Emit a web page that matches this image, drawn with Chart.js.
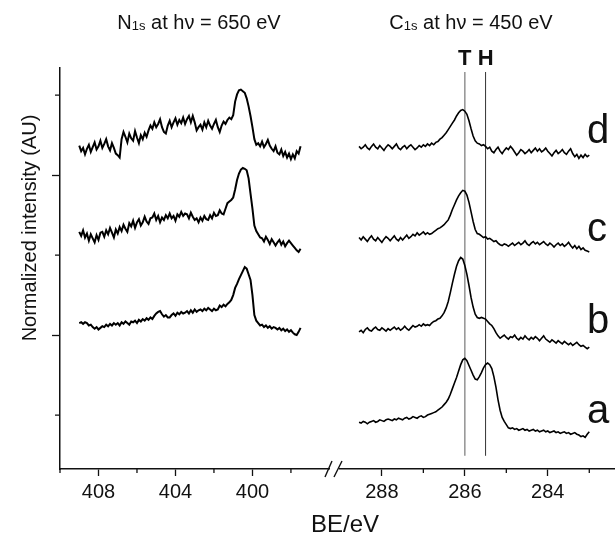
<!DOCTYPE html>
<html><head><meta charset="utf-8">
<script src="https://cdn.jsdelivr.net/npm/chart.js@4.4.0/dist/chart.umd.min.js"></script>
<style>html,body{margin:0;padding:0;background:#fff;overflow:hidden}</style>
</head><body>
<canvas id="c" width="615" height="537" style="display:block;width:615px;height:537px"></canvas>
<script>
// ---------- data ----------
// energy grids (binding energy, eV), uniform sampling
const N1S_BE_START = 409.0, N1S_BE_STEP = 0.1;
const C1S_BE_START = 288.55, C1S_BE_STEP = 0.05;

// N1s spectra (normalized intensity, offset per sample)
const N1S_D = [337,330,334,326,333,338,329,335,341,332,336,343,334,339,345,336,331,340,334,327,
  325,322,345,354,
  348,341,352,346,343,355,347,340,350,345,353,348,
  356,362,358,366,360,364,
  370,360,354,352,
  362,368,360,366,371,363,369,365,372,364,370,374,366,
  374,366,356,360,
  363,357,366,360,368,362,358,364,369,360,354,
  362,367,364,369,
  372,370,375,392,401,406,407,405,403,396,386,374,360,345,338,
  340,336,342,335,339,344,337,333,330,336,328,326,332,324,329,322,327,320,326,321,330,327,336];
const N1S_C = [229,224,231,222,227,218,226,221,216,225,219,228,
  229,223,231,226,234,228,222,232,227,235,230,238,233,229,
  240,236,243,234,241,245,237,241,248,242,239,246,
  247,252,244,249,241,247,244,250,246,252,246,249,243,251,248,254,249,252,
  251,246,253,248,244,246,241,247,243,249,245,244,250,246,253,249,250,256,252,
  251,258,265,267,269,272,282,294,302,307,309,308,306,296,277,258,237,230,226,222,
  221,217,223,219,214,220,216,212,216,219,213,217,211,215,218,215,212,209,206,204,208];
const N1S_B = [115,116,114,116,115,112,113,110,108,110,107,109,
  111,110,113,111,114,112,115,113,115,112,116,114,117,115,113,117,
  116,118,115,119,117,120,118,121,119,122,120,124,127,129,
  130,126,123,125,122,122,125,127,124,128,126,129,127,128,
  130,127,131,128,132,129,131,132,130,133,131,134,132,130,133,131,132,
  137,135,138,136,139,141,144,150,159,164,170,175,180,185,183,176,169,150,125,118,115,112,
  113,110,112,109,111,108,110,109,107,109,106,108,105,107,104,106,103,101,100,104,109];

// C1s spectra
const C1S_D = [336,333,335,338,334,332,336,339,335,333,337,334,331,335,338,336,333,336,339,334,
  332,335,337,333,336,338,335,332,334,337,335,338,336,339,337,340,338,341,
  342,345,347,350,353,357,361,365,369,374,378,381,382,380,376,368,358,349,343,340,339,337,
  338,336,333,335,330,328,332,335,330,327,331,334,332,336,333,329,325,328,332,330,
  327,329,332,328,331,334,330,333,329,331,334,330,327,324,328,331,327,329,332,328,
  326,330,333,327,323,326,321,325,322,326,323,325];
const C1S_C = [222,219,223,220,217,221,224,220,218,222,219,216,220,223,221,218,221,224,220,218,
  222,219,222,225,221,223,226,224,228,225,227,229,226,228,226,227,
  229,231,233,234,236,238,241,244,250,257,263,269,274,278,281,280,275,266,254,242,232,227,226,224,
  222,223,220,221,219,217,218,215,213,212,214,213,211,213,215,212,214,216,213,215,
  218,214,212,215,217,214,216,213,215,217,214,212,215,213,210,213,215,212,214,211,
  213,216,212,209,212,208,211,207,209,206,205,204];
const C1S_B = [104,106,103,107,109,106,105,108,110,107,106,109,107,105,108,106,108,110,107,109,
  106,108,111,108,106,109,112,110,111,113,111,114,112,113,
  112,115,117,118,120,121,124,128,134,142,153,165,176,186,193,197,195,187,176,162,147,135,126,122,121,122,121,
  120,117,114,112,108,103,99,96,98,100,97,95,98,97,100,96,94,97,95,99,
  96,94,97,95,98,96,93,96,99,95,93,91,94,92,90,93,91,89,92,90,
  88,90,87,89,91,88,86,87,85,83,85];
const C1S_A = [-9,-10,-8,-9,-11,-9,-8,-7,-9,-8,-6,-7,-8,-6,-5,-6,-7,-5,-6,-4,
  -5,-6,-4,-3,-5,-4,-2,-3,-4,-2,-1,-3,-2,0,1,2,3,
  4,6,8,10,13,16,20,26,33,40,47,55,63,69,71,68,62,56,50,45,44,48,53,59,63,65,63,58,48,35,19,6,-3,-8,-12,-16,
  -17,-16,-18,-17,-19,-18,-17,-19,-18,-20,-19,-18,-20,-19,-21,-20,-19,-21,-20,-22,
  -21,-20,-22,-21,-23,-22,-21,-23,-22,-24,-23,-22,-24,-25,-27,-26,-28,-24,-21];

// axis ranges & ticks
const N1S_RANGE = [395.71, 410];
const C1S_RANGE = [282.38, 289.13];
const Y_RANGE = [-67.5, 434];
const X_TICKS_N1S = [408, 404, 400];
const X_MINOR_N1S = [410, 406, 402, 398];
const X_TICKS_C1S = [288, 286, 284];
const X_MINOR_C1S = [287, 285, 283];
const Y_MAJOR = [100, 300];
const Y_MINOR = [0, 200, 400];

// component markers
const MARKER_LABELS = ['T', 'H'];
const MARKER_BE = [286.0, 285.5];
const MARKER_Y = [-51, 429];

// texts
const TITLE_N1S = ['N', '1s', ' at h\u03bd = 650 eV'];
const TITLE_C1S = ['C', '1s', ' at h\u03bd = 450 eV'];
const X_TITLE = 'BE/eV';
const Y_TITLE = 'Normalized intensity (AU)';
const TRACE_LABELS = ['d', 'c', 'b', 'a'];

// ---------- build ----------
function grid(start, step, n) { const a = []; for (let i = 0; i < n; i++) a.push(+(start - i * step).toFixed(3)); return a; }
function pts(be, vals) { return vals.map((v, i) => ({ x: be[i], y: v })); }
const N1S_BE = grid(N1S_BE_START, N1S_BE_STEP, N1S_D.length);
const C1S_BE = grid(C1S_BE_START, C1S_BE_STEP, C1S_D.length);

const FONT = '"Liberation Sans", Arial, Helvetica, sans-serif';
const INK = '#111';

function trace(vals, be, axis, w) {
  return { data: pts(be, vals), xAxisID: axis, yAxisID: 'y', borderColor: '#000', borderWidth: w,
    pointRadius: 0, tension: 0, fill: false, order: 0 };
}
const datasets = [
  trace(N1S_D, N1S_BE, 'xN', 2), trace(N1S_C, N1S_BE, 'xN', 2), trace(N1S_B, N1S_BE, 'xN', 2),
  trace(C1S_D, C1S_BE, 'xC', 1.6), trace(C1S_C, C1S_BE, 'xC', 1.6), trace(C1S_B, C1S_BE, 'xC', 1.6), trace(C1S_A, C1S_BE, 'xC', 1.6)
];
MARKER_BE.forEach((be, i) => {
  datasets.push({ data: [{ x: be, y: MARKER_Y[0] }, { x: be, y: MARKER_Y[1] }], xAxisID: 'xC', yAxisID: 'y',
    borderColor: i === 0 ? '#8a8a8a' : '#333', borderWidth: i === 0 ? 1.4 : 1, pointRadius: 0, order: 1 });
});

function setTicks(list) { return (s) => { s.ticks = list.map(v => ({ value: v })); }; }
const xCommon = {
  type: 'linear', position: 'bottom', stack: 'x', reverse: true,
  grid: { display: true, drawOnChartArea: false, drawTicks: true, tickLength: 7, tickColor: INK, tickWidth: 1.3 },
  border: { display: true, color: INK, width: 1.5 },
  ticks: { font: { family: FONT, size: 20, lineHeight: 1.2 }, color: INK, padding: 4, maxRotation: 0, autoSkip: false,
    callback: (v) => String(v) },
  afterFit: (s) => { s.height = 68; }
};

const overlay = {
  id: 'overlay',
  afterDraw(chart) {
    const { ctx, scales } = chart;
    const xN = scales.xN, xC = scales.xC, y = scales.y;
    ctx.save();
    ctx.strokeStyle = INK; ctx.lineWidth = 1.3;
    ctx.beginPath();
    X_MINOR_N1S.forEach(v => { const p = xN.getPixelForValue(v); ctx.moveTo(p, xN.top); ctx.lineTo(p, xN.top + 4); });
    X_MINOR_C1S.forEach(v => { const p = xC.getPixelForValue(v); ctx.moveTo(p, xC.top); ctx.lineTo(p, xC.top + 4); });
    Y_MINOR.forEach(v => { const p = y.getPixelForValue(v); ctx.moveTo(y.right, p); ctx.lineTo(y.right - 5, p); });
    ctx.stroke();
    // axis break
    const bx = xN.right, by = xN.top;
    ctx.fillStyle = '#fff'; ctx.fillRect(bx - 5, by - 3, 9, 6);
    ctx.beginPath();
    ctx.moveTo(bx - 10, by + 8); ctx.lineTo(bx - 3, by - 8);
    ctx.moveTo(bx - 1, by + 8); ctx.lineTo(bx + 7, by - 8);
    ctx.lineWidth = 1.4; ctx.stroke();

    ctx.fillStyle = INK;
    function titled(parts, cx, base) {
      const sizes = [20, 13, 20];
      let tot = 0; const w = [];
      parts.forEach((t, i) => { ctx.font = sizes[i] + 'px ' + FONT; w[i] = ctx.measureText(t).width; tot += w[i]; });
      let x = cx - tot / 2;
      ctx.textAlign = 'left'; ctx.textBaseline = 'alphabetic';
      parts.forEach((t, i) => { ctx.font = sizes[i] + 'px ' + FONT; ctx.fillText(t, x, base + (i === 1 ? 1 : 0)); x += w[i]; });
    }
    titled(TITLE_N1S, 199, 29);
    titled(TITLE_C1S, 471, 29);
    // marker labels
    ctx.font = 'bold 22px ' + FONT; ctx.textAlign = 'center'; ctx.textBaseline = 'alphabetic';
    MARKER_BE.forEach((be, i) => ctx.fillText(MARKER_LABELS[i], xC.getPixelForValue(be), 65));
    // trace labels
    ctx.font = '40px ' + FONT; ctx.textAlign = 'left';
    const base = [143, 241, 333, 423];
    TRACE_LABELS.forEach((t, i) => ctx.fillText(t, 587, base[i]));
    // axis titles
    ctx.font = '24px ' + FONT; ctx.textAlign = 'center'; ctx.textBaseline = 'middle';
    ctx.fillText(X_TITLE, 345, 525);
    ctx.save(); ctx.translate(30, 228); ctx.rotate(-Math.PI / 2);
    ctx.font = '20px ' + FONT; ctx.fillText(Y_TITLE, 0, 0); ctx.restore();
    ctx.restore();
  }
};

new Chart(document.getElementById('c'), {
  type: 'line',
  data: { datasets },
  plugins: [overlay],
  options: {
    responsive: false, animation: false, events: [],
    layout: { padding: { top: 68, left: 0, right: 0, bottom: 0 } },
    plugins: { legend: { display: false }, tooltip: { enabled: false }, title: { display: false } },
    scales: {
      xN: Object.assign({}, xCommon, { min: N1S_RANGE[0], max: N1S_RANGE[1], stackWeight: 275, afterBuildTicks: setTicks(X_TICKS_N1S) }),
      xC: Object.assign({}, xCommon, { min: C1S_RANGE[0], max: C1S_RANGE[1], stackWeight: 280, afterBuildTicks: setTicks(X_TICKS_C1S) }),
      y: {
        type: 'linear', position: 'left', min: Y_RANGE[0], max: Y_RANGE[1],
        afterBuildTicks: setTicks(Y_MAJOR),
        grid: { display: true, drawOnChartArea: false, drawTicks: true, tickLength: 8, tickColor: INK, tickWidth: 1.3 },
        border: { display: true, color: INK, width: 1.5 },
        ticks: { display: false },
        afterFit: (s) => { s.width = 60; }
      }
    }
  }
});
</script>
</body></html>
